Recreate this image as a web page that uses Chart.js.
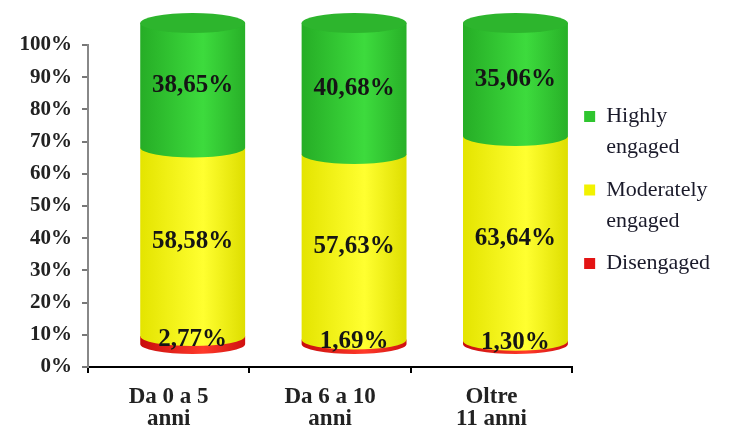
<!DOCTYPE html>
<html>
<head>
<meta charset="utf-8">
<script src="https://cdn.jsdelivr.net/npm/chart.js@4.4.0/dist/chart.umd.min.js"></script>
<style>
  html, body { margin: 0; padding: 0; background: #fff; }
  #wrap { width: 733px; height: 428px; }
</style>
</head>
<body>
<div id="wrap"><canvas id="chart"></canvas></div>
<script>
// data
const categories = [["Da 0 a 5", "anni"], ["Da 6 a 10", "anni"], ["Oltre", "11 anni"]];
const disengaged = [2.77, 1.69, 1.30];
const moderately = [58.58, 57.63, 63.64];
const highly = [38.65, 40.68, 35.06];
const seriesNames = [["Disengaged"], ["Moderately", "engaged"], ["Highly", "engaged"]];

// colours: flat, then side shading (left, light, right) and top cap
const flatColors = ["#e31414", "#f2f200", "#2fc52f"];
const sideColors = [
    ["#c80c0c", "#ff3a2a", "#d01010"],
    ["#e4e400", "#ffff30", "#dede00"],
    ["#26ad26", "#3ddb3d", "#28b028"]
];
const capColor = "#2db52d";

// fake 3d depth of the cylinders
const DEPTH_X = 24;
const DEPTH_Y = -22;
const RY = 10;

const serif = "'Liberation Serif', 'Times New Roman', serif";

function fmt(v) {
    return v.toFixed(2).replace(".", ",") + "%";
}

const cylinderPlugin = {
    id: "cylinders",
    beforeDatasetsDraw(chart) {
        const ctx = chart.ctx;
        const datasets = chart.data.datasets;
        ctx.save();
        ctx.translate(DEPTH_X, DEPTH_Y);

        for (let i = 0; i < categories.length; i++) {
            let last = null;
            datasets.forEach((ds, d) => {
                const el = chart.getDatasetMeta(d).data[i];
                const p = el.getProps(["x", "y", "base", "width"], true);
                const left = p.x - p.width / 2;
                const right = p.x + p.width / 2;
                const grad = ctx.createLinearGradient(left, 0, right, 0);
                grad.addColorStop(0, sideColors[d][0]);
                grad.addColorStop(0.6, sideColors[d][1]);
                grad.addColorStop(1, sideColors[d][2]);
                ctx.fillStyle = grad;
                ctx.beginPath();
                ctx.moveTo(left, p.y);
                ctx.lineTo(left, p.base);
                ctx.ellipse(p.x, p.base, p.width / 2, RY, 0, Math.PI, 0, true);
                ctx.lineTo(right, p.y);
                ctx.closePath();
                ctx.fill();
                last = p;
            });
            // top cap
            ctx.fillStyle = capColor;
            ctx.beginPath();
            ctx.ellipse(last.x, last.y, last.width / 2, RY, 0, 0, Math.PI * 2);
            ctx.fill();
        }

        // value labels
        ctx.font = "bold 25px " + serif;
        ctx.fillStyle = "#151515";
        ctx.textAlign = "center";
        ctx.textBaseline = "middle";
        datasets.forEach((ds, d) => {
            chart.getDatasetMeta(d).data.forEach((el, i) => {
                const p = el.getProps(["x", "y", "base"], true);
                ctx.fillText(fmt(ds.data[i]), p.x, (p.y + p.base) / 2);
            });
        });

        ctx.restore();
        return false;
    }
};

const seriesData = [disengaged, moderately, highly];

new Chart(document.getElementById("chart"), {
    type: "bar",
    data: {
        labels: categories,
        datasets: seriesData.map((values, d) => ({
            label: seriesNames[d],
            data: values,
            backgroundColor: flatColors[d],
            barPercentage: 0.65,
            categoryPercentage: 1
        }))
    },
    options: {
        responsive: true,
        maintainAspectRatio: false,
        animation: false,
        layout: { padding: { top: 45, right: 13 } },
        scales: {
            x: {
                stacked: true,
                grid: { drawOnChartArea: false, tickLength: 6, color: "#000", lineWidth: 2 },
                border: { color: "#000", width: 2 },
                ticks: {
                    font: { family: serif, size: 23, weight: "bold", lineHeight: 0.96 },
                    color: "#222",
                    padding: 13,
                    maxRotation: 0,
                    autoSkip: false
                },
                afterFit(scale) { scale.height = 61; }
            },
            y: {
                stacked: true,
                min: 0,
                max: 100,
                ticks: {
                    stepSize: 10,
                    callback: v => v + "%",
                    font: { family: serif, size: 21, weight: "bold" },
                    color: "#222",
                    padding: 10
                },
                grid: { drawOnChartArea: false, tickLength: 6, color: "#777", lineWidth: 2 },
                border: { color: "#888", width: 2 },
                afterFit(scale) { scale.width = 88; }
            }
        },
        plugins: {
            legend: {
                position: "right",
                align: "start",
                reverse: true,
                title: { display: true, text: " ", font: { size: 12 }, padding: { top: 0, bottom: 34 } },
                labels: {
                    boxWidth: 11,
                    boxHeight: 11,
                    padding: 12,
                    color: "#1a1a2a",
                    font: { family: serif, size: 22, lineHeight: 1.4 }
                }
            },
            tooltip: { enabled: false }
        }
    },
    plugins: [cylinderPlugin]
});
</script>
</body>
</html>
